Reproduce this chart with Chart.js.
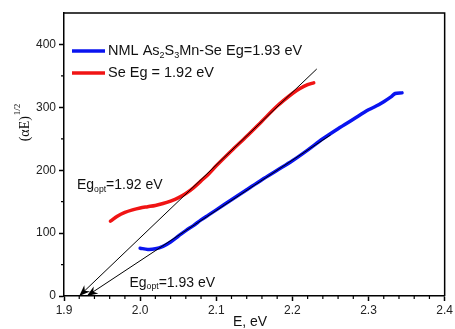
<!DOCTYPE html>
<html>
<head>
<meta charset="utf-8">
<script src="https://cdn.jsdelivr.net/npm/chart.js@4/dist/chart.umd.min.js"></script>
<style>
html,body{margin:0;padding:0;background:#fff;}
#wrap{width:455px;height:329px;}
</style>
</head>
<body>
<div id="wrap"><canvas id="c" width="455" height="329"></canvas></div>
<script>
// ---- data ----
const seE   = [1.961,1.97,1.98,1.99,2.00,2.01,2.02,2.03,2.04,2.05,2.06,2.07,2.08,2.09,2.10,2.12,2.14,2.16,2.18,2.20,2.21,2.22,2.228];
const seVal = [119,127,133,137,140,142,144,147,151,156,163,172,183,194,207,231,254,278,302,322,330,336,339];

const nmlE   = [2.000,2.01,2.02,2.03,2.04,2.05,2.06,2.07,2.08,2.09,2.10,2.12,2.14,2.16,2.18,2.20,2.22,2.24,2.26,2.28,2.30,2.31,2.32,2.33,2.335,2.344];
const nmlVal = [76,74,75,79,86,95,104,112,121,129,137,153,169,185,200,215,232,250,266,281,296,302,309,317,322,323];

const fitSeE   = [1.92, 2.232];
const fitSeVal = [0, 361];
const fitNmlE   = [1.93, 2.25];
const fitNmlVal = [0, 256];

const xTicks = [1.9, 2.0, 2.1, 2.2, 2.3, 2.4];
const yTicks = [0, 100, 200, 300, 400];

const legendLabels = [
  {color:'#0a14f0', parts:[['NML As',0],['2',1],['S',0],['3',1],['Mn-Se Eg=1.93 eV',0]]},
  {color:'#f01414', parts:[['Se Eg = 1.92 eV',0]]}
];
const annotations = [
  {E:1.917, v:176, parts:[['Eg',0],['opt',1],['=1.92 eV',0]]},
  {E:1.986, v:21,  parts:[['Eg',0],['opt',1],['=1.93 eV',0]]}
];

const pts = (xs, ys) => xs.map((x,i)=>({x:x, y:ys[i]}));

const FONT = '"Liberation Sans", Arial, sans-serif';

function drawParts(ctx, x, y, parts, size){
  ctx.textBaseline = 'middle';
  ctx.textAlign = 'left';
  for (const [t, sub] of parts){
    if (sub){
      ctx.font = (size*0.62) + 'px ' + FONT;
      ctx.fillText(t, x, y + size*0.3);
    } else {
      ctx.font = size + 'px ' + FONT;
      ctx.fillText(t, x, y);
    }
    x += ctx.measureText(t).width;
  }
}

const decor = {
  id:'decor',
  afterDraw(chart){
    const ctx = chart.ctx, a = chart.chartArea;
    const xs = chart.scales.x, ys = chart.scales.y;
    ctx.save();
    // box top/right
    ctx.strokeStyle = '#000'; ctx.lineWidth = 1.5;
    ctx.beginPath();
    ctx.moveTo(a.left, a.top); ctx.lineTo(a.right, a.top); ctx.lineTo(a.right, a.bottom);
    ctx.stroke();
    // minor ticks
    ctx.lineWidth = 1.2;
    ctx.beginPath();
    for (let k=0;k<=25;k++){
      if (k%5===0) continue;
      const px = xs.getPixelForValue(1.9 + k*0.02);
      ctx.moveTo(px, a.bottom); ctx.lineTo(px, a.bottom+3);
    }
    for (let v=50; v<450; v+=100){
      const py = ys.getPixelForValue(v);
      ctx.moveTo(a.left, py); ctx.lineTo(a.left-3, py);
    }
    ctx.stroke();
    // arrowheads on fit lines
    ctx.fillStyle = '#000';
    [[fitSeE,fitSeVal],[fitNmlE,fitNmlVal]].forEach(([E,V])=>{
      const tx = xs.getPixelForValue(E[0]), ty = ys.getPixelForValue(V[0]);
      const ox = xs.getPixelForValue(E[1]), oy = ys.getPixelForValue(V[1]);
      const ang = Math.atan2(ty-oy, tx-ox);
      const L = 11, W = 4.2;
      ctx.beginPath();
      ctx.moveTo(tx, ty);
      ctx.lineTo(tx - L*Math.cos(ang) - W*Math.sin(ang), ty - L*Math.sin(ang) + W*Math.cos(ang));
      ctx.lineTo(tx - L*0.7*Math.cos(ang), ty - L*0.7*Math.sin(ang));
      ctx.lineTo(tx - L*Math.cos(ang) + W*Math.sin(ang), ty - L*Math.sin(ang) - W*Math.cos(ang));
      ctx.closePath(); ctx.fill();
    });
    // legend
    legendLabels.forEach((it, i)=>{
      const y = a.top + 38 + i*22;
      ctx.strokeStyle = it.color; ctx.lineWidth = 3.5;
      ctx.beginPath(); ctx.moveTo(a.left+8, y); ctx.lineTo(a.left+41, y); ctx.stroke();
      ctx.fillStyle = '#111';
      drawParts(ctx, a.left+44, y, it.parts, 14.5);
    });
    // annotations
    ctx.fillStyle = '#111';
    annotations.forEach(an=>{
      drawParts(ctx, xs.getPixelForValue(an.E), ys.getPixelForValue(an.v), an.parts, 14);
    });
    // x title
    ctx.font = '14px ' + FONT; ctx.textAlign='center'; ctx.textBaseline='middle';
    ctx.fillText('E, eV', 250, 322);
    // y title (rotated, serif)
    ctx.translate(25, 123);
    ctx.rotate(-Math.PI/2);
    ctx.textAlign='left';
    const sf = '"Liberation Serif", "Times New Roman", serif';
    ctx.font = '14px ' + sf;
    const main = '(\u03b1E)';
    const w1 = ctx.measureText(main).width;
    ctx.font = '9px ' + sf;
    const w2 = ctx.measureText('1/2').width;
    const x0 = -(w1+w2)/2;
    ctx.font = '14px ' + sf;
    ctx.fillText(main, x0, 0);
    ctx.font = '9px ' + sf;
    ctx.fillText('1/2', x0 + w1 + 1, -7);
    ctx.restore();
  }
};

new Chart(document.getElementById('c'), {
  type:'scatter',
  data:{
    datasets:[
      {data:pts(fitSeE, fitSeVal), showLine:true, borderColor:'#000', borderWidth:1, pointRadius:0, order:0},
      {data:pts(fitNmlE, fitNmlVal), showLine:true, borderColor:'#000', borderWidth:1, pointRadius:0, order:0},
      {data:pts(seE, seVal), showLine:true, borderColor:'#f01414', borderWidth:3.5, pointRadius:0, tension:0.3, borderCapStyle:'round', order:1},
      {data:pts(nmlE, nmlVal), showLine:true, borderColor:'#0a14f0', borderWidth:3.5, pointRadius:0, tension:0.3, borderCapStyle:'round', order:1}
    ]
  },
  options:{
    responsive:false, animation:false, devicePixelRatio:1,
    layout:{padding:{top:13, right:9, left:0, bottom:0}},
    plugins:{legend:{display:false}, tooltip:{enabled:false}},
    scales:{
      x:{
        type:'linear', min:1.9, max:2.4,
        afterFit(s){ s.height = 33; },
        afterBuildTicks(s){ s.ticks = xTicks.map(v=>({value:v})); },
        ticks:{callback:v=>Number(v).toFixed(1), color:'#222', font:{family:FONT, size:12}, padding:2, maxRotation:0},
        grid:{drawOnChartArea:false, drawTicks:true, tickLength:5, tickColor:'#000', tickWidth:1.5},
        border:{display:true, color:'#000', width:1.5}
      },
      y:{
        type:'linear', min:0, max:450,
        afterFit(s){ s.width = 64; },
        afterBuildTicks(s){ s.ticks = yTicks.map(v=>({value:v})); },
        ticks:{color:'#222', font:{family:FONT, size:12}, padding:3},
        grid:{drawOnChartArea:false, drawTicks:true, tickLength:5, tickColor:'#000', tickWidth:1.5},
        border:{display:true, color:'#000', width:1.5}
      }
    }
  },
  plugins:[decor]
});
</script>
</body>
</html>
